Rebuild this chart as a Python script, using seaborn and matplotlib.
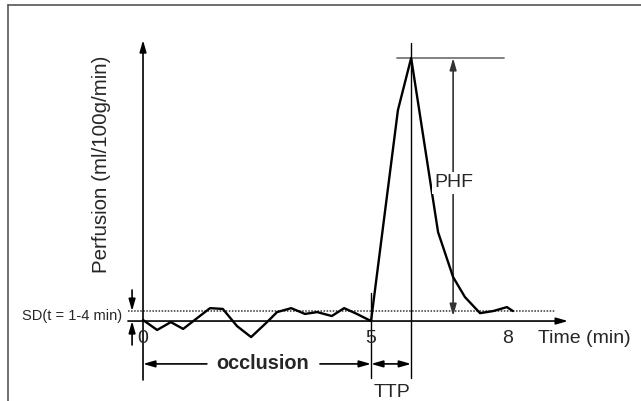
import numpy as np
import pandas as pd
import seaborn as sns
import matplotlib.pyplot as plt

# curva di perfusione (tempo in min, perfusione in unita' arbitrarie)
tempo = [0.00, 0.31, 0.61, 0.88, 1.47, 1.75, 2.06, 2.37, 2.72, 2.94, 3.25, 3.55,
         3.82, 4.14, 4.41, 4.69, 5.00, 5.59, 5.88, 6.47, 6.80, 7.06, 7.39, 7.68,
         7.98, 8.11]
perfusione = [0.4, -3.4, -0.4, -3.0, 4.9, 4.6, -1.9, -6.1, -0.4, 3.4, 4.9, 2.7,
              3.4, 1.9, 4.9, 2.7, 0.0, 80.2, 100.0, 33.8, 16.7, 9.1, 3.0, 3.8,
              5.3, 3.8]
tick_tempo = [0, 5, 8]
tick_label = ['0', '5', '8']
livello_sd = 3.8
t_picco = 5.88
t_inizio_bolo = 5.0

df = pd.DataFrame({'tempo': tempo, 'perfusione': perfusione})

sns.set_style('white')
plt.rcParams['font.family'] = ['Liberation Sans', 'DejaVu Sans']

fig = plt.figure(figsize=(6.41, 4.01), dpi=100)
ax = fig.add_axes([0, 0, 1, 1])
ax.set_xlim(-3.136, 10.92)
ax.set_ylim(-30.4, 122.05)
ax.axis('off')

# bordo grigio dell'immagine
ax.plot([0.0125, 1], [0.9875, 0.9875], color='#555555', lw=1.2, transform=ax.transAxes)
ax.plot([0.0125, 0.0125], [0, 0.9875], color='#555555', lw=1.2, transform=ax.transAxes)

# curva
sns.lineplot(data=df, x='tempo', y='perfusione', color='black', lw=1.7, ax=ax, zorder=5)

testa = dict(arrowstyle='-|>,head_length=0.7,head_width=0.2', color='black', lw=1.2,
             shrinkA=0, shrinkB=0)
doppia = dict(testa, arrowstyle='<|-|>,head_length=0.7,head_width=0.2')

# assi con frecce
ax.annotate('', xy=(0, 106.8), xytext=(0, -22.4), arrowprops=testa)
ax.annotate('', xy=(9.32, 0), xytext=(-0.33, 0), arrowprops=testa)
ax.plot([-0.33, 9.03], [livello_sd, livello_sd], color='#333333', lw=1.1, ls=(0, (1, 1)))

# SD
ax.annotate('', xy=(-0.24, livello_sd), xytext=(-0.24, 11.8), arrowprops=testa)
ax.annotate('', xy=(-0.24, 0), xytext=(-0.24, -9.1), arrowprops=testa)
ax.text(-0.46, 1.9, 'SD(t = 1-4 min)', ha='right', va='center', fontsize=10.5)

# tick
for t, lab in zip(tick_tempo, tick_label):
    ax.text(t, -6.5, lab, ha='center', va='center', fontsize=14)
ax.text(8.66, -6.5, 'Time (min)', ha='left', va='center', fontsize=14)
ax.text(-0.92, 59.7, 'Perfusion (ml/100g/min)', rotation=90, ha='center', va='center',
        fontsize=14.8)

# occlusione
ax.annotate('', xy=(0, -16.3), xytext=(1.40, -16.3), arrowprops=testa)
ax.annotate('', xy=(t_inizio_bolo, -16.3), xytext=(3.88, -16.3), arrowprops=testa)
ax.text(2.63, -16.3, 'occlusion', ha='center', va='center', fontsize=14.3, fontweight='bold')

# TTP
ax.plot([t_inizio_bolo, t_inizio_bolo], [10.6, -21.7], color='black', lw=1.0)
ax.plot([t_picco, t_picco], [105.7, -21.7], color='black', lw=1.0)
ax.annotate('', xy=(t_picco, -16.3), xytext=(t_inizio_bolo, -16.3), arrowprops=doppia)
ax.text(5.46, -27.0, 'TTP', ha='center', va='center', fontsize=14)

# PHF
ax.plot([5.57, 7.92], [100, 100], color='#777777', lw=1.3)
ax.annotate('', xy=(6.80, 100), xytext=(6.80, 1.9), arrowprops=dict(doppia, color='#333333'))
ax.text(6.82, 52.5, 'PHF', ha='center', va='center', fontsize=14,
        bbox=dict(facecolor='white', edgecolor='none', pad=1.5), zorder=6)

plt.savefig('out.png', dpi=100)
